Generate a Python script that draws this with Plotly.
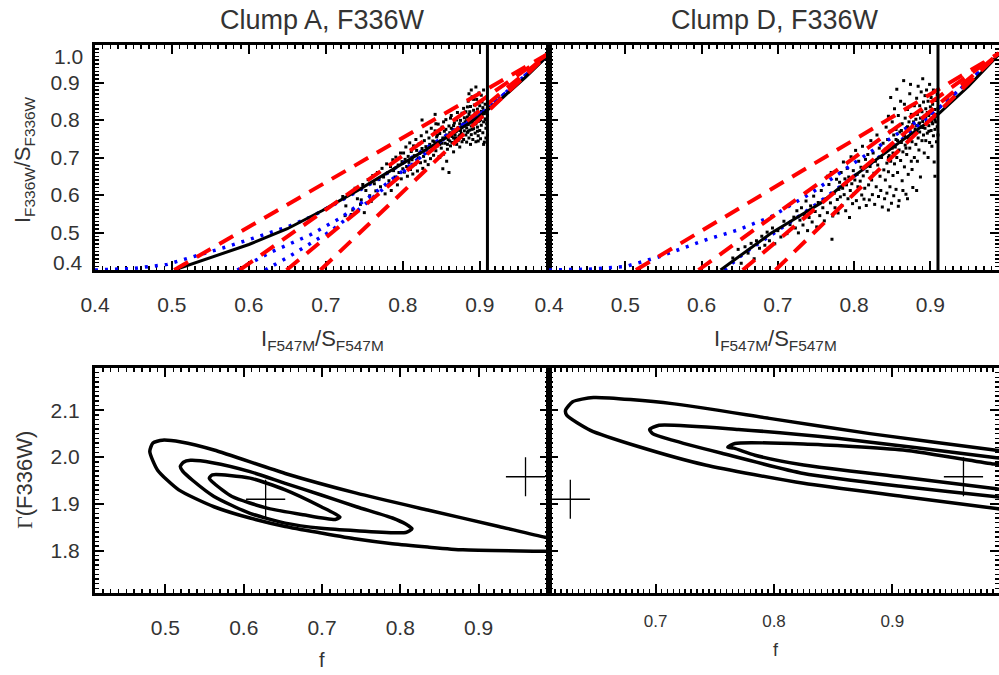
import plotly.graph_objects as go

# ---------------- data ----------------
# top panels: I_F336W/S_F336W vs I_F547M/S_F547M
top_x_ticks = [0.4, 0.5, 0.6, 0.7, 0.8, 0.9]
top_y_ticks = [0.5, 0.6, 0.7, 0.8, 0.9]
cut_x = 0.91  # vertical line position

# Clump A pixel cloud (x, y)
clumpA_pts = [
    (0.722,0.596),(0.726,0.571),(0.731,0.602),(0.735,0.560),(0.738,0.618),(0.741,0.590),(0.745,0.575),(0.748,0.628),
    (0.752,0.612),(0.755,0.641),(0.757,0.598),(0.759,0.583),(0.725,0.545),(0.746,0.587),(0.750,0.553),(0.733,0.548),
    (0.761,0.652),(0.763,0.630),(0.765,0.611),(0.767,0.660),(0.769,0.641),(0.771,0.622),(0.773,0.671),(0.775,0.648),
    (0.777,0.603),(0.779,0.683),(0.780,0.659),(0.782,0.638),(0.784,0.676),(0.785,0.612),(0.787,0.694),(0.788,0.665),
    (0.790,0.648),(0.791,0.701),(0.793,0.627),(0.794,0.680),(0.795,0.660),(0.797,0.712),(0.798,0.643),(0.799,0.689),
    (0.800,0.670),(0.801,0.712),(0.802,0.661),(0.803,0.695),(0.804,0.728),(0.805,0.676),(0.806,0.650),(0.807,0.703),
    (0.808,0.687),(0.809,0.739),(0.810,0.668),(0.811,0.716),(0.812,0.694),(0.813,0.656),(0.814,0.731),(0.815,0.705),
    (0.816,0.682),(0.817,0.748),(0.818,0.719),(0.819,0.664),(0.820,0.699),(0.821,0.736),(0.822,0.711),(0.823,0.686),
    (0.824,0.758),(0.825,0.724),(0.826,0.671),(0.827,0.703),(0.828,0.745),(0.829,0.690),(0.830,0.729),(0.831,0.768),
    (0.832,0.712),(0.833,0.681),(0.834,0.752),(0.835,0.735),(0.836,0.697),(0.837,0.778),(0.838,0.720),(0.839,0.744),
    (0.840,0.706),(0.825,0.800),(0.842,0.815),
    (0.841,0.742),(0.842,0.771),(0.843,0.718),(0.844,0.755),(0.845,0.731),(0.846,0.789),(0.847,0.702),(0.848,0.764),
    (0.849,0.744),(0.850,0.725),(0.851,0.781),(0.852,0.752),(0.853,0.709),(0.854,0.770),(0.855,0.738),(0.856,0.801),
    (0.857,0.760),(0.858,0.722),(0.859,0.748),(0.860,0.784),(0.861,0.766),(0.862,0.731),(0.863,0.812),(0.864,0.756),
    (0.865,0.774),(0.866,0.715),(0.867,0.792),(0.868,0.745),(0.869,0.769),(0.870,0.735),(0.871,0.820),(0.872,0.780),
    (0.873,0.756),(0.874,0.728),(0.875,0.799),(0.876,0.764),(0.877,0.742),(0.878,0.786),(0.879,0.831),(0.880,0.771),
    (0.843,0.790),(0.848,0.700),(0.853,0.795),(0.857,0.690),(0.862,0.805),(0.866,0.752),(0.870,0.800),(0.874,0.760),
    (0.877,0.818),(0.879,0.748),(0.845,0.760),(0.851,0.738),(0.856,0.775),(0.861,0.744),(0.866,0.785),(0.871,0.748),
    (0.876,0.782),(0.860,0.660),(0.852,0.670),(0.880,0.806),
    (0.881,0.795),(0.882,0.760),(0.882,0.822),(0.883,0.779),(0.883,0.741),(0.884,0.808),(0.884,0.767),(0.885,0.850),
    (0.885,0.788),(0.886,0.752),(0.886,0.815),(0.887,0.773),(0.887,0.798),(0.888,0.735),(0.888,0.836),(0.889,0.784),
    (0.889,0.761),(0.890,0.810),(0.890,0.862),(0.891,0.792),(0.891,0.748),(0.892,0.826),(0.892,0.777),(0.893,0.803),
    (0.893,0.840),(0.894,0.765),(0.894,0.818),(0.895,0.790),(0.895,0.742),(0.896,0.855),(0.896,0.808),(0.897,0.781),
    (0.897,0.829),(0.898,0.758),(0.898,0.796),(0.899,0.872),(0.899,0.815),(0.900,0.772),(0.900,0.838),(0.901,0.801),
    (0.901,0.750),(0.902,0.823),(0.902,0.786),(0.903,0.848),(0.903,0.809),(0.904,0.766),(0.904,0.833),(0.905,0.795),
    (0.905,0.880),(0.906,0.817),(0.906,0.741),(0.907,0.842),(0.907,0.803),(0.908,0.778),(0.908,0.826),(0.909,0.859),
    (0.909,0.790),(0.910,0.812),(0.910,0.760),(0.910,0.845),(0.889,0.880),(0.895,0.888),(0.886,0.870),(0.902,0.866),
    (0.898,0.744),(0.905,0.735),(0.908,0.752),(0.892,0.855),(0.884,0.835),(0.900,0.798),
    (0.858,0.735),(0.863,0.778),(0.868,0.760),(0.872,0.745),(0.875,0.772),(0.879,0.790),(0.883,0.800),(0.887,0.822),
    (0.890,0.775),(0.893,0.790),(0.896,0.795),(0.899,0.803),(0.902,0.810),(0.905,0.825),(0.908,0.800),(0.897,0.770),
    (0.891,0.808),(0.885,0.770),(0.880,0.785),(0.874,0.790),(0.869,0.752),(0.864,0.740),(0.855,0.752),(0.848,0.735),
]

# Clump D pixel cloud (x, y)
clumpD_pts = [
    (0.641,0.432),(0.648,0.455),(0.652,0.418),(0.657,0.462),(0.661,0.445),(0.665,0.471),(0.669,0.430),(0.672,0.478),
    (0.676,0.458),(0.679,0.490),(0.683,0.466),(0.686,0.501),(0.689,0.478),(0.693,0.512),(0.696,0.470),(0.700,0.505),
    (0.704,0.488),(0.708,0.530),(0.712,0.497),(0.716,0.521),
    (0.721,0.541),(0.723,0.512),(0.725,0.558),(0.727,0.499),(0.729,0.533),(0.731,0.566),(0.733,0.520),(0.735,0.548),
    (0.737,0.584),(0.739,0.505),(0.741,0.540),(0.743,0.571),(0.745,0.528),(0.747,0.597),(0.749,0.556),(0.751,0.515),
    (0.753,0.580),(0.755,0.545),(0.757,0.612),(0.759,0.566),(0.761,0.531),(0.763,0.590),(0.765,0.553),(0.767,0.628),
    (0.769,0.579),(0.771,0.482),(0.772,0.544),(0.774,0.605),(0.775,0.566),(0.777,0.642),(0.778,0.588),(0.779,0.552),
    (0.780,0.615),(0.765,0.650),(0.770,0.660),
    (0.781,0.634),(0.782,0.595),(0.783,0.660),(0.784,0.572),(0.785,0.618),(0.786,0.688),(0.787,0.601),(0.788,0.643),
    (0.789,0.558),(0.790,0.627),(0.791,0.671),(0.792,0.590),(0.793,0.648),(0.794,0.540),(0.795,0.612),(0.796,0.702),
    (0.797,0.630),(0.798,0.577),(0.799,0.665),(0.800,0.604),(0.801,0.640),(0.802,0.719),(0.803,0.585),(0.804,0.655),
    (0.805,0.622),(0.806,0.690),(0.807,0.566),(0.808,0.637),(0.809,0.674),(0.810,0.600),(0.811,0.730),(0.812,0.651),
    (0.813,0.589),(0.814,0.618),(0.815,0.695),(0.816,0.572),(0.817,0.663),(0.818,0.708),(0.819,0.627),(0.820,0.587),
    (0.821,0.676),(0.822,0.745),(0.823,0.640),(0.824,0.601),(0.825,0.712),(0.826,0.658),(0.827,0.575),(0.828,0.690),
    (0.829,0.622),(0.830,0.760),(0.831,0.680),(0.832,0.596),(0.833,0.725),(0.834,0.650),(0.835,0.612),(0.836,0.700),
    (0.837,0.568),(0.838,0.738),(0.839,0.667),(0.840,0.590),
    (0.841,0.722),(0.841,0.640),(0.842,0.781),(0.843,0.685),(0.843,0.605),(0.844,0.748),(0.845,0.662),(0.845,0.810),
    (0.846,0.705),(0.847,0.622),(0.847,0.770),(0.848,0.690),(0.849,0.735),(0.849,0.578),(0.850,0.795),(0.851,0.712),
    (0.851,0.652),(0.852,0.760),(0.853,0.683),(0.853,0.830),(0.854,0.728),(0.855,0.615),(0.855,0.775),(0.856,0.700),
    (0.857,0.745),(0.857,0.660),(0.858,0.812),(0.859,0.720),(0.859,0.585),(0.860,0.768),(0.861,0.692),(0.861,0.850),
    (0.862,0.740),(0.863,0.638),(0.863,0.790),(0.864,0.715),(0.865,0.905),(0.865,0.762),(0.866,0.675),(0.867,0.805),
    (0.867,0.733),(0.868,0.602),(0.869,0.780),(0.869,0.708),(0.870,0.828),(0.871,0.752),(0.871,0.655),(0.872,0.795),
    (0.873,0.725),(0.873,0.870),(0.874,0.768),(0.875,0.690),(0.875,0.815),(0.876,0.742),(0.877,0.620),(0.877,0.788),
    (0.878,0.760),(0.879,0.838),(0.879,0.700),(0.880,0.776),(0.845,0.560),(0.852,0.598),(0.858,0.570),(0.864,0.612),
    (0.870,0.590),(0.876,0.668),(0.848,0.860),(0.856,0.882),(0.866,0.842),(0.874,0.895),
    (0.881,0.802),(0.881,0.735),(0.882,0.858),(0.882,0.770),(0.883,0.690),(0.883,0.815),(0.884,0.752),(0.884,0.890),
    (0.885,0.790),(0.885,0.720),(0.886,0.838),(0.886,0.768),(0.887,0.805),(0.887,0.648),(0.888,0.875),(0.888,0.782),
    (0.889,0.745),(0.889,0.822),(0.890,0.910),(0.890,0.796),(0.891,0.760),(0.891,0.848),(0.892,0.712),(0.892,0.810),
    (0.893,0.778),(0.893,0.865),(0.894,0.830),(0.894,0.745),(0.895,0.795),(0.895,0.880),(0.896,0.765),(0.896,0.820),
    (0.897,0.700),(0.897,0.850),(0.898,0.785),(0.898,0.812),(0.899,0.740),(0.899,0.895),(0.900,0.802),(0.900,0.835),
    (0.901,0.772),(0.901,0.860),(0.902,0.730),(0.902,0.818),(0.903,0.790),(0.903,0.842),(0.904,0.758),(0.904,0.880),
    (0.905,0.808),(0.905,0.688),(0.906,0.828),(0.906,0.775),(0.907,0.852),(0.907,0.795),(0.908,0.742),(0.908,0.815),
    (0.909,0.868),(0.909,0.782),(0.910,0.830),(0.910,0.760),(0.882,0.612),(0.906,0.650),
    (0.862,0.772),(0.866,0.758),(0.870,0.782),(0.874,0.748),(0.878,0.795),(0.882,0.785),(0.886,0.792),(0.890,0.780),
    (0.894,0.805),(0.898,0.770),(0.902,0.795),(0.906,0.800),(0.855,0.748),(0.850,0.725),(0.845,0.700),(0.868,0.725),
]

# best-fit model curve (black, solid)
modelA_x = [0.503, 0.55, 0.60, 0.65, 0.695, 0.742, 0.78, 0.835, 0.87, 0.90, 0.93, 0.96, 0.99]
modelA_y = [0.400, 0.432, 0.468, 0.510, 0.558, 0.613, 0.660, 0.729, 0.770, 0.810, 0.860, 0.915, 0.975]
modelD_x = [0.625, 0.691, 0.756, 0.799, 0.864, 0.907, 0.95, 0.99]
modelD_y = [0.400, 0.498, 0.578, 0.649, 0.747, 0.809, 0.890, 0.975]

# alternative models (blue, dotted)
blueA = [
    ([0.40, 0.45, 0.494, 0.533, 0.568, 0.606, 0.65, 0.681, 0.72, 0.76, 0.80, 0.85, 0.91, 0.99],
     [0.400, 0.404, 0.415, 0.438, 0.460, 0.485, 0.515, 0.542, 0.585, 0.632, 0.685, 0.750, 0.830, 0.975]),
    ([0.585, 0.63, 0.68, 0.72, 0.76, 0.80, 0.85, 0.91, 0.99],
     [0.400, 0.449, 0.494, 0.540, 0.600, 0.665, 0.745, 0.830, 0.975]),
    ([0.621, 0.649, 0.677, 0.705, 0.742, 0.788, 0.84, 0.91, 0.99],
     [0.400, 0.432, 0.467, 0.502, 0.560, 0.640, 0.730, 0.830, 0.975]),
]
blueD = [
    ([0.40, 0.45, 0.50, 0.544, 0.605, 0.648, 0.691, 0.743, 0.799, 0.864, 0.91, 0.99],
     [0.400, 0.402, 0.409, 0.435, 0.480, 0.507, 0.542, 0.604, 0.684, 0.773, 0.830, 0.975]),
    ([0.630, 0.656, 0.70, 0.75, 0.80, 0.864, 0.91, 0.99],
     [0.400, 0.445, 0.505, 0.575, 0.650, 0.750, 0.830, 0.975]),
]

# straight-line models (red, dashed): start on the bottom axis, end at the corner
redA_start = [0.503, 0.588, 0.649, 0.693]
redD_start = [0.514, 0.596, 0.654, 0.697]
red_end = (0.99, 0.978)
red_floor = 0.40

# bottom panels: confidence contours in (f, Gamma)
bot_y_ticks = [1.8, 1.9, 2.0, 2.1]
botA_x_ticks = [0.5, 0.6, 0.7, 0.8, 0.9]
botD_x_ticks = [0.7, 0.8, 0.9]

contA1_f = [0.556, 0.560, 0.608, 0.653, 0.699, 0.723, 0.717, 0.676, 0.630, 0.585, 0.562, 0.556]
contA1_g = [1.955, 1.962, 1.955, 1.930, 1.894, 1.872, 1.867, 1.877, 1.891, 1.916, 1.944, 1.955]
contA2_f = [0.519, 0.523, 0.532, 0.56, 0.608, 0.653, 0.699, 0.744, 0.790, 0.807, 0.815, 0.807, 0.744, 0.699, 0.653, 0.608, 0.562, 0.535, 0.522, 0.519]
contA2_g = [1.980, 1.989, 1.993, 1.988, 1.969, 1.944, 1.919, 1.894, 1.870, 1.857, 1.847, 1.839, 1.843, 1.848, 1.859, 1.880, 1.916, 1.950, 1.970, 1.980]
contA3_f = [0.480, 0.484, 0.496, 0.52, 0.562, 0.653, 0.744, 0.835, 0.926, 0.985, 1.03, 1.03, 0.985, 0.880, 0.835, 0.790, 0.744, 0.699, 0.653, 0.608, 0.562, 0.517, 0.490, 0.480]
contA3_g = [2.012, 2.030, 2.036, 2.032, 2.015, 1.965, 1.923, 1.887, 1.852, 1.829, 1.815, 1.797, 1.799, 1.802, 1.808, 1.815, 1.825, 1.838, 1.852, 1.870, 1.894, 1.930, 1.972, 2.012]

contD1_f = [0.761, 0.767, 0.825, 0.909, 0.986, 1.03, 1.03, 0.986, 0.909, 0.825, 0.784, 0.766, 0.761]
contD1_g = [2.021, 2.029, 2.028, 2.015, 1.985, 1.970, 1.920, 1.933, 1.957, 1.983, 2.004, 2.019, 2.021]
contD2_f = [0.695, 0.703, 0.770, 0.8535, 0.986, 1.03, 1.03, 0.986, 0.909, 0.825, 0.756, 0.714, 0.6975, 0.695]
contD2_g = [2.059, 2.068, 2.059, 2.040, 1.999, 1.985, 1.905, 1.916, 1.937, 1.965, 2.008, 2.036, 2.050, 2.059]
contD3_f = [0.624, 0.630, 0.6475, 0.714, 0.7975, 0.881, 0.986, 1.03, 1.03, 0.986, 0.909, 0.825, 0.742, 0.686, 0.645, 0.625, 0.624]
contD3_g = [2.100, 2.118, 2.127, 2.114, 2.082, 2.050, 2.015, 2.000, 1.880, 1.891, 1.916, 1.944, 1.983, 2.022, 2.057, 2.089, 2.100]

best_f = [0.628, 0.960]
best_gamma = [1.910, 1.958]

# ---------------- figure ----------------
FONT = "Liberation Sans, Arial, Helvetica, sans-serif"
TXT = "#333333"
W, H = 999, 675

def px_x(p):
    return p / W

def px_y(p):
    return (H - p) / H

xl = [px_x(95), px_x(549)]
xr = [px_x(549), 1.0]
yt = [px_y(270), px_y(45)]
yb = [px_y(593), px_y(368)]

def axis(domain, rng, tickvals, show, anchor, minor_dt, size=21, standoff=0):
    return dict(
        domain=domain, range=rng, anchor=anchor, automargin=False,
        tickmode="array", tickvals=tickvals, ticktext=["%.1f" % v for v in tickvals],
        showticklabels=show, ticks="inside", ticklen=9, tickwidth=2, tickcolor="black",
        showline=True, linecolor="black", linewidth=3, mirror="allticks",
        showgrid=False, zeroline=False, layer="below traces",
        minor=dict(tickmode="linear", tick0=0, dtick=minor_dt, ticks="inside",
                   ticklen=4, tickwidth=1.5, tickcolor="black", showgrid=False),
        tickfont=dict(family=FONT, size=size, color=TXT),
        ticklabelstandoff=standoff,
    )

fig = go.Figure()

def add_top(xa, ya, pts, mx, my, blues, red_starts):
    xs = [p[0] for p in pts]
    ys = [p[1] for p in pts]
    fig.add_trace(go.Scatter(x=xs, y=ys, mode="markers", xaxis=xa, yaxis=ya,
                             marker=dict(color="black", size=3, symbol="square"), showlegend=False))
    for bx, by in blues:
        fig.add_trace(go.Scatter(x=bx, y=by, mode="lines", xaxis=xa, yaxis=ya, showlegend=False,
                                 line=dict(color="#0000ff", width=3.5, dash="3px,7px")))
    fig.add_trace(go.Scatter(x=mx, y=my, mode="lines", xaxis=xa, yaxis=ya, showlegend=False,
                             line=dict(color="black", width=3)))
    for s in red_starts:
        fig.add_trace(go.Scatter(x=[s, red_end[0]], y=[red_floor, red_end[1]], mode="lines",
                                 xaxis=xa, yaxis=ya, showlegend=False,
                                 line=dict(color="#ff0000", width=4, dash="16px,10px")))
    fig.add_trace(go.Scatter(x=[cut_x, cut_x], y=[0.4, 1.0], mode="lines", xaxis=xa, yaxis=ya,
                             showlegend=False, line=dict(color="black", width=3)))

add_top("x", "y", clumpA_pts, modelA_x, modelA_y, blueA, redA_start)
add_top("x2", "y2", clumpD_pts, modelD_x, modelD_y, blueD, redD_start)

def add_bot(xa, ya, conts):
    for cf, cg in conts:
        fig.add_trace(go.Scatter(x=cf, y=cg, mode="lines", xaxis=xa, yaxis=ya, showlegend=False,
                                 line=dict(color="black", width=3.5, shape="spline", smoothing=0.6)))
    fig.add_trace(go.Scatter(x=best_f, y=best_gamma, mode="markers", xaxis=xa, yaxis=ya, showlegend=False,
                             marker=dict(symbol="cross-thin", size=28, color="black",
                                         line=dict(color="black", width=1.3))))

add_bot("x3", "y3", [(contA1_f, contA1_g), (contA2_f, contA2_g), (contA3_f, contA3_g)])
add_bot("x4", "y4", [(contD1_f, contD1_g), (contD2_f, contD2_g), (contD3_f, contD3_g)])

fig.update_layout(
    width=W, height=H, margin=dict(l=0, r=0, t=0, b=0, autoexpand=False),
    paper_bgcolor="white", plot_bgcolor="white", showlegend=False,
    xaxis=axis(xl, [0.4, 0.99], top_x_ticks, True, "y", 0.01, 21, 14),
    yaxis=axis(yt, [0.4, 1.0], top_y_ticks, True, "x", 0.01, 21, 8),
    xaxis2=axis(xr, [0.4, 0.99], top_x_ticks, True, "y2", 0.01, 21, 14),
    yaxis2=axis(yt, [0.4, 1.0], top_y_ticks, False, "x2", 0.01, 21, 8),
    xaxis3=axis(xl, [0.41, 0.99], botA_x_ticks, True, "y3", 0.01, 21, 14),
    yaxis3=axis(yb, [1.71, 2.19], bot_y_ticks, True, "x3", 0.01, 21, 8),
    xaxis4=axis(xr, [0.61, 0.99], botD_x_ticks, True, "y4", 0.005, 17, 11),
    yaxis4=axis(yb, [1.71, 2.19], bot_y_ticks, False, "x4", 0.01, 21, 8),
)

ann = []
def text(x, y, s, size, angle=0, xanchor="center", yanchor="middle", xref="paper", yref="paper", xshift=0):
    ann.append(dict(x=x, y=y, xref=xref, yref=yref, text=s, showarrow=False, textangle=angle,
                    xanchor=xanchor, yanchor=yanchor, xshift=xshift,
                    font=dict(family=FONT, size=size, color=TXT)))

text(px_x(322), px_y(20), "Clump A, F336W", 27)
text(px_x(775), px_y(20), "Clump D, F336W", 27)
# end labels of the top-left y axis, nudged inside as in the original
text(0, 0.968, "1.0", 21, xanchor="right", xref="x domain", yref="y", xshift=-10)
text(0, 0.421, "0.4", 21, xanchor="right", xref="x domain", yref="y", xshift=-10)
text(px_x(322), px_y(340), "I<sub>F547M</sub>/S<sub>F547M</sub>", 22)
text(px_x(775), px_y(340), "I<sub>F547M</sub>/S<sub>F547M</sub>", 22)
text(px_x(24), px_y(160), "I<sub>F336W</sub>/S<sub>F336W</sub>", 22, angle=-90)
text(px_x(24), px_y(480), "<span style='font-family:Liberation Serif, serif'>Γ</span>(F336W)", 22, angle=-90)
text(px_x(322), px_y(660), "f", 20)
text(px_x(776), px_y(650), "f", 18)
fig.update_layout(annotations=ann)

fig.write_html("out.html", config={"displayModeBar": False, "staticPlot": True},
               post_script="document.body.style.margin='0px';")
